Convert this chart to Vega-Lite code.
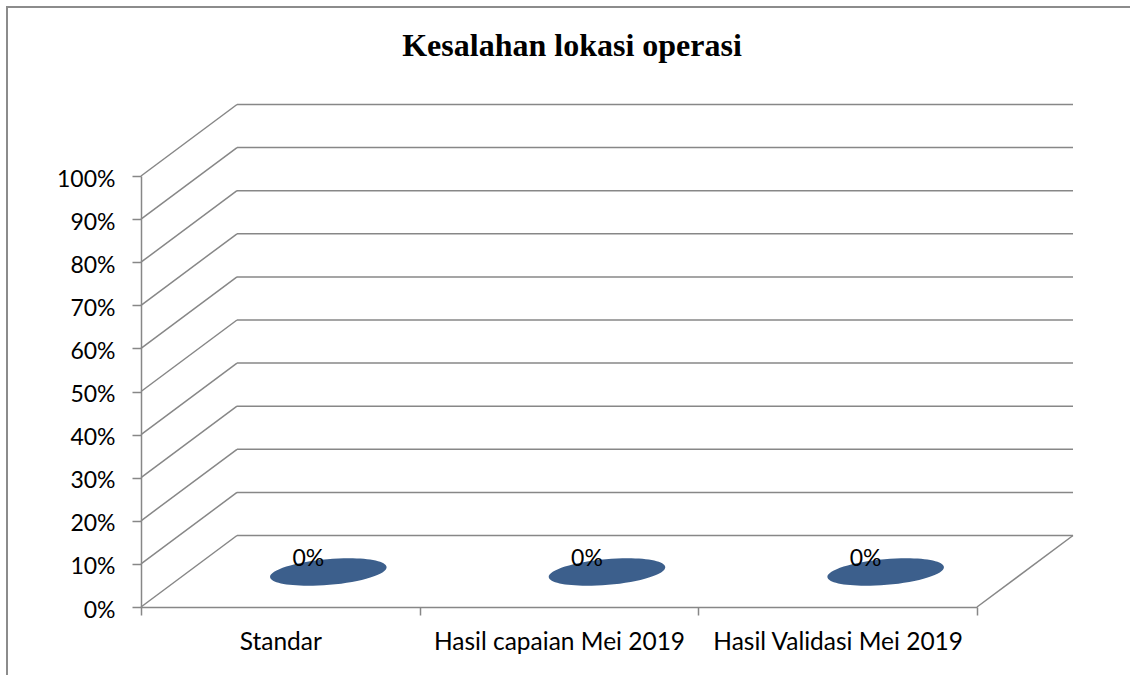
{
  "$schema": "https://vega.github.io/schema/vega-lite/v6.json",
  "autosize": {"type": "none"},
  "padding": {"left": 7, "top": 7, "right": -1, "bottom": -1},
  "width": 1124,
  "height": 669,
  "background": "white",
  "title": {
    "text": "Kesalahan lokasi operasi",
    "font": "Liberation Serif",
    "fontSize": 32,
    "fontWeight": "bold",
    "color": "black",
    "anchor": "middle",
    "frame": "group",
    "baseline": "alphabetic",
    "offset": -81,
    "dx": 3
  },
  "config": {
    "view": {"stroke": "#8c8c8c", "strokeWidth": 2}
  },
  "datasets": {
    "grid": [{"v": 0}, {"v": 0.1}, {"v": 0.2}, {"v": 0.3}, {"v": 0.4}, {"v": 0.5}, {"v": 0.6}, {"v": 0.7}, {"v": 0.8}, {"v": 0.9}, {"v": 1}],
    "main": [
      {"kategori": "Standar", "nilai": 0},
      {"kategori": "Hasil capaian Mei 2019", "nilai": 0},
      {"kategori": "Hasil Validasi Mei 2019", "nilai": 0}
    ]
  },
  "resolve": {"scale": {"x": "independent"}},
  "layer": [
    {
      "data": {"name": "grid"},
      "mark": {"type": "rule", "color": "#878787", "strokeWidth": 1.5, "x2Offset": 96, "y2Offset": -71.5},
      "encoding": {
        "x": {"datum": 0, "type": "quantitative", "scale": {"domain": [0, 1], "range": [134, 970], "nice": false, "zero": false}, "axis": null},
        "x2": {"datum": 0},
        "y": {"field": "v", "type": "quantitative", "scale": {"domain": [0, 1], "range": [600, 169], "nice": false, "zero": false},
          "axis": {
            "orient": "left", "offset": -134, "title": null,
            "values": [0, 0.1, 0.2, 0.3, 0.4, 0.5, 0.6, 0.7, 0.8, 0.9, 1],
            "format": ".0%", "grid": false,
            "domainColor": "#878787", "domainWidth": 1.5,
            "tickColor": "#878787", "tickWidth": 1.5, "tickSize": 9,
            "labelFont": "Lato", "labelFontSize": 23, "labelColor": "black",
            "labelPadding": 17, "labelOffset": 3
          }
        },
        "y2": {"field": "v"}
      }
    },
    {
      "data": {"name": "grid"},
      "mark": {"type": "rule", "color": "#878787", "strokeWidth": 1.5, "xOffset": 96, "x2Offset": 96, "yOffset": -71.5},
      "encoding": {
        "x": {"datum": 0, "type": "quantitative", "scale": {"domain": [0, 1], "range": [134, 970], "nice": false, "zero": false}, "axis": null},
        "x2": {"datum": 1},
        "y": {"field": "v", "type": "quantitative", "scale": {"domain": [0, 1], "range": [600, 169], "nice": false, "zero": false}}
      }
    },
    {
      "data": {"name": "grid"},
      "transform": [{"filter": "datum.v == 0"}],
      "mark": {"type": "rule", "color": "#878787", "strokeWidth": 1.5, "x2Offset": 96, "y2Offset": -71.5},
      "encoding": {
        "x": {"datum": 1, "type": "quantitative", "scale": {"domain": [0, 1], "range": [134, 970], "nice": false, "zero": false}, "axis": null},
        "x2": {"datum": 1},
        "y": {"field": "v", "type": "quantitative", "scale": {"domain": [0, 1], "range": [600, 169], "nice": false, "zero": false}},
        "y2": {"field": "v"}
      }
    },
    {
      "data": {"name": "main"},
      "layer": [
        {
          "mark": {
            "type": "point",
            "shape": "M-0.9962,0.0872A1,0.22,-5,0,0,0.9962,-0.0872A1,0.22,-5,0,0,-0.9962,0.0872Z",
            "size": 13689,
            "filled": true,
            "fill": "#3C5F8C",
            "strokeWidth": 0,
            "opacity": 1,
            "xOffset": 48,
            "yOffset": -35
          },
          "encoding": {
            "x": {"field": "kategori", "type": "nominal", "sort": null,
              "scale": {"range": [134, 970], "paddingInner": 0, "paddingOuter": 0},
              "axis": {
                "orient": "bottom", "offset": -69, "title": null, "tickBand": "extent",
                "grid": false, "labelAngle": 0, "labelLimit": 500,
                "domainColor": "#878787", "domainWidth": 1.5,
                "tickColor": "#878787", "tickWidth": 1.5, "tickSize": 8,
                "labelFont": "Lato", "labelFontSize": 24.5, "labelColor": "black",
                "labelPadding": 15
              }
            },
            "y": {"field": "nilai", "type": "quantitative", "scale": {"domain": [0, 1], "range": [600, 169], "nice": false, "zero": false}}
          }
        },
        {
          "mark": {"type": "text", "font": "Lato", "fontSize": 23, "color": "black", "align": "center", "baseline": "alphabetic", "xOffset": 28, "yOffset": -41},
          "encoding": {
            "x": {"field": "kategori", "type": "nominal", "sort": null},
            "y": {"field": "nilai", "type": "quantitative"},
            "text": {"field": "nilai", "type": "quantitative", "format": ".0%"}
          }
        }
      ]
    }
  ]
}
